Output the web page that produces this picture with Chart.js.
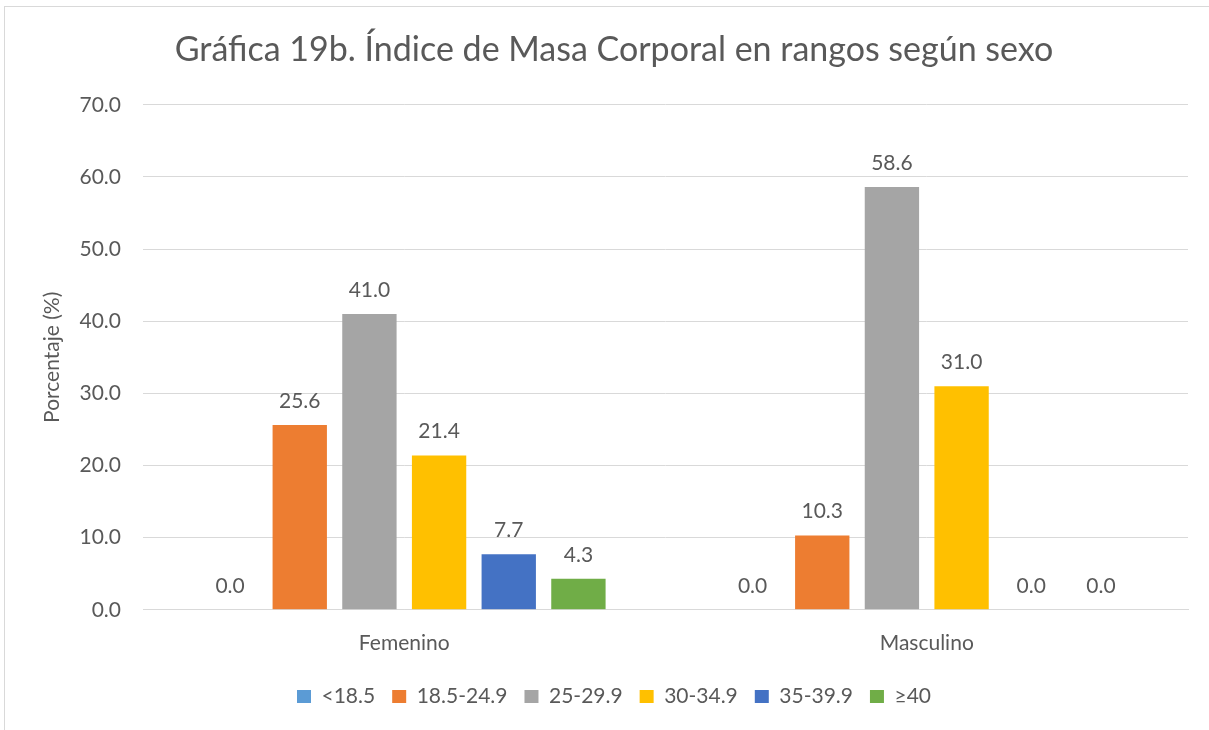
<!DOCTYPE html>
<html>
<head>
<meta charset="utf-8">
<script src="https://cdn.jsdelivr.net/npm/chart.js@4"></script>
<style>
    html, body { margin: 0; padding: 0; background: #ffffff; }
    #frame {
        position: absolute; left: 4px; top: 6px; width: 1220px; height: 740px;
        border: 1px solid #d9d9d9; box-sizing: border-box;
    }
    #wrap { position: absolute; left: 0; top: 0; width: 1209px; height: 730px; }
</style>
</head>
<body>
<div id="frame"></div>
<div id="wrap"><canvas id="imcChart" width="1209" height="730"></canvas></div>
<script>
const categories = ['Femenino', 'Masculino'];
const rangeLabels = ['<18.5', '18.5-24.9', '25-29.9', '30-34.9', '35-39.9', '≥40'];
const rangeColors = ['#5B9BD5', '#ED7D31', '#A5A5A5', '#FFC000', '#4472C4', '#70AD47'];
const underWeight = [0.0, 0.0];
const normalWeight = [25.6, 10.3];
const overWeight = [41.0, 58.6];
const obesity1 = [21.4, 31.0];
const obesity2 = [7.7, 0.0];
const obesity3 = [4.3, 0.0];
const seriesValues = [underWeight, normalWeight, overWeight, obesity1, obesity2, obesity3];

const FONT = "Lato, 'Open Sans', sans-serif";
const TEXT_COLOR = '#595959';

// draws the value above each bar
const valueLabels = {
    id: 'valueLabels',
    afterDatasetsDraw(chart) {
        const ctx = chart.ctx;
        ctx.save();
        ctx.font = `21px ${FONT}`;
        ctx.fillStyle = TEXT_COLOR;
        ctx.textAlign = 'center';
        ctx.textBaseline = 'alphabetic';
        chart.data.datasets.forEach((ds, i) => {
            const meta = chart.getDatasetMeta(i);
            meta.data.forEach((bar, j) => {
                ctx.fillText(ds.data[j].toFixed(1), bar.x, bar.y - 17);
            });
        });
        ctx.restore();
    }
};

const datasets = rangeLabels.map((label, i) => ({
    label: label,
    data: seriesValues[i],
    backgroundColor: rangeColors[i],
    borderWidth: 0,
    categoryPercentage: 0.8,
    barPercentage: 0.78
}));

const ctx = document.getElementById('imcChart').getContext('2d');
new Chart(ctx, {
    type: 'bar',
    data: { labels: categories, datasets: datasets },
    plugins: [valueLabels],
    options: {
        responsive: false,
        animation: false,
        layout: { padding: { left: 40, right: 21, top: 30, bottom: 13 } },
        plugins: {
            title: {
                display: true,
                text: 'Gráfica 19b. Índice de Masa Corporal en rangos según sexo',
                color: TEXT_COLOR,
                font: { family: FONT, size: 34, weight: 'normal' },
                padding: { top: 0, bottom: 34 }
            },
            legend: {
                position: 'bottom',
                labels: {
                    color: TEXT_COLOR,
                    font: { family: FONT, size: 21 },
                    boxWidth: 14,
                    boxHeight: 13,
                    padding: 17
                }
            },
            tooltip: { enabled: false }
        },
        scales: {
            x: {
                grid: { display: false },
                border: { color: '#d9d9d9' },
                ticks: {
                    color: TEXT_COLOR,
                    font: { family: FONT, size: 21 },
                    padding: 13
                }
            },
            y: {
                min: 0,
                max: 70,
                afterFit: scale => { scale.width = 103; },
                ticks: {
                    stepSize: 10,
                    color: TEXT_COLOR,
                    font: { family: FONT, size: 21 },
                    padding: 22,
                    callback: value => value.toFixed(1)
                },
                grid: { color: '#d9d9d9', drawTicks: false },
                border: { display: false },
                title: {
                    display: true,
                    text: 'Porcentaje (%)',
                    color: TEXT_COLOR,
                    font: { family: FONT, size: 21 },
                    padding: { top: 0, bottom: 4 }
                }
            }
        }
    }
});
</script>
</body>
</html>
